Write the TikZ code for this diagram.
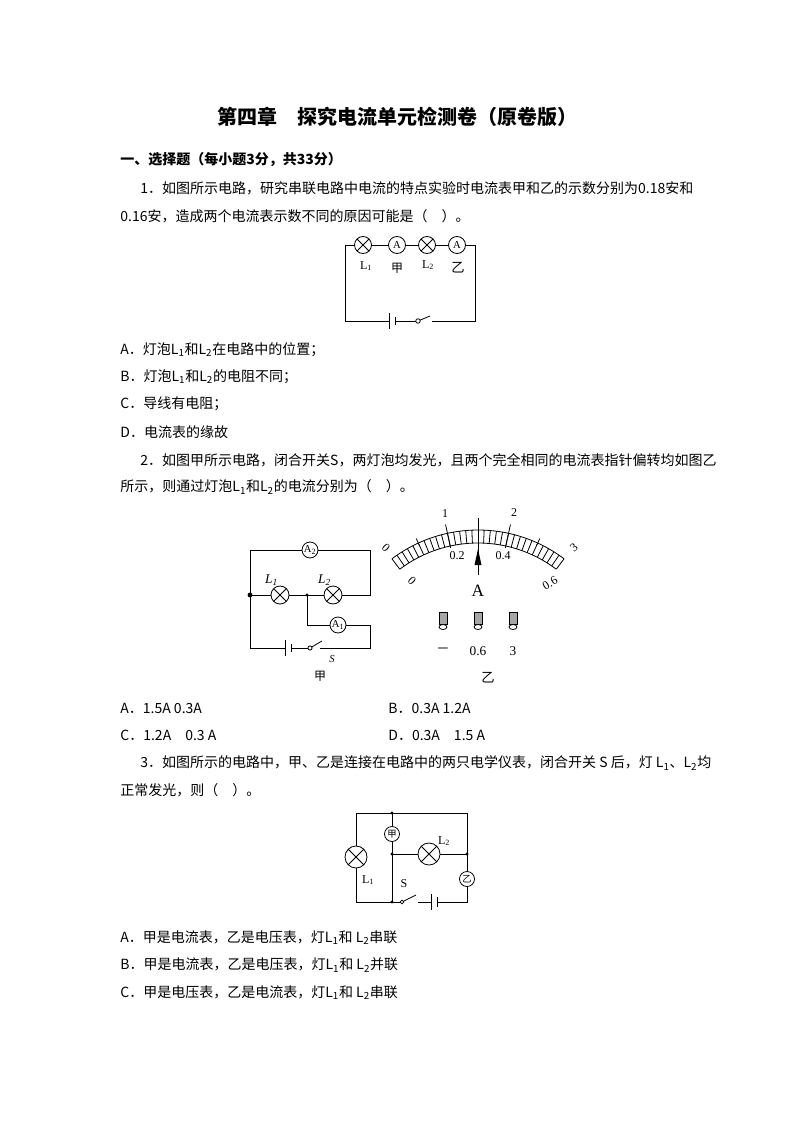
\documentclass[tikz,border=0pt]{standalone}
\usepackage{fontspec}
\setmainfont{Liberation Serif}
\newfontfamily\cjk{Noto Sans CJK SC}
\usetikzlibrary{arrows.meta}
\tikzset{
 lamp/.style={circle,draw,fill=white,minimum size=#1,inner sep=0pt,
   path picture={\draw (path picture bounding box.north west)--(path picture bounding box.south east)
   (path picture bounding box.north east)--(path picture bounding box.south west);}},
 meter/.style={circle,draw,fill=white,minimum size=#1,inner sep=0pt,font=\fontsize{8}{8}\selectfont},
 txt/.style={anchor=west,inner sep=0pt,font=\cjk\fontsize{10.5}{12}\selectfont},
 lbl/.style={inner sep=0pt,font=\fontsize{9}{9}\selectfont},
 dot/.style={circle,fill,inner sep=1.3pt},
}
\begin{document}
\begin{tikzpicture}[x=0.75pt,y=-0.75pt,line width=0.6pt]
\useasboundingbox (0,0) rectangle (794,1123);
\node[inner sep=0pt,font=\cjk\bfseries\fontsize{15}{16}\selectfont] (title) at (397,117) {第四章\quad 探究电流单元检测卷（原卷版）};
\node[txt,font=\cjk\bfseries\fontsize{10.5}{12}\selectfont] (sec) at (120,160) {一、选择题（每小题3分，共33分）};
\node[txt] (q1a) at (140,188) {1．如图所示电路，研究串联电路中电流的特点实验时电流表甲和乙的示数分别为0.18安和};
\node[txt] (q1b) at (120,216) {0.16安，造成两个电流表示数不同的原因可能是（\quad ）。};
% circuit 1
\draw (345,245)--(475,245)--(475,321)--(432,321) (418,321)--(395,321) (389,321)--(345,321)--(345,245);
\draw (389,313)--(389,329) (395,317)--(395,325);
\draw (418,321)--(430,316);
\node[circle,draw,fill=white,inner sep=1.2pt] (sw1) at (418,321) {};
\node[lamp=17pt*0.75] (l1) at (363,245) {};
\node[meter=17pt*0.75] (a1) at (397,245) {A};
\node[lamp=17pt*0.75] (l2) at (427,245) {};
\node[meter=17pt*0.75] (a2) at (457,245) {A};
\node[lbl] (l1t) at (366,266) {L\textsubscript{1}};
\node[lbl,font=\cjk\fontsize{9}{9}\selectfont] (a1t) at (397,268) {甲};
\node[lbl] (l2t) at (428,265) {L\textsubscript{2}};
\node[lbl,font=\cjk\fontsize{10}{10}\selectfont] (a2t) at (458,268) {乙};
\node[txt] (o1a) at (120,350) {A．灯泡L\textsubscript{1}和L\textsubscript{2}在电路中的位置；};
\node[txt] (o1b) at (120,377) {B．灯泡L\textsubscript{1}和L\textsubscript{2}的电阻不同；};
\node[txt] (o1c) at (120,404) {C．导线有电阻；};
\node[txt] (o1d) at (120,432) {D．电流表的缘故};
\node[txt] (q2a) at (140,460) {2．如图甲所示电路，闭合开关S，两灯泡均发光，且两个完全相同的电流表指针偏转均如图乙};
\node[txt] (q2b) at (120,487) {所示，则通过灯泡L\textsubscript{1}和L\textsubscript{2}的电流分别为（\quad ）。};
% circuit 2
\draw (250,595)--(250,550)--(370,550)--(370,595)--(250,595);
\draw (307,595)--(307,625)--(370,625)--(370,648)--(320,648) (310,648)--(291,648) (285,648)--(250,648)--(250,595);
\draw (285,640)--(285,656) (291,644)--(291,652);
\draw (310,648)--(322,641);
\node[circle,draw,fill=white,inner sep=1.1pt] (sw2) at (310,648) {};
\node[meter=16pt*0.75] (A2) at (310,550) {A\textsubscript{2}};
\node[lamp=18pt*0.75,label={[lbl,font=\itshape\fontsize{10}{10}\selectfont]100:L\textsubscript{1}}] (L1b) at (280,595) {};
\node[lamp=18pt*0.75,label={[lbl,font=\itshape\fontsize{10}{10}\selectfont]100:L\textsubscript{2}}] (L2b) at (333,595) {};
\node[meter=16pt*0.75] (A1) at (338,625) {A\textsubscript{1}};
\node[dot] (n1) at (250,595) {}; \node[circle,fill,inner sep=0.9pt] (n2) at (307,595) {};
\node[lbl,font=\itshape\fontsize{8}{8}\selectfont] (st) at (332,659) {S};
\node[lbl,font=\cjk\fontsize{9}{9}\selectfont] (jia) at (320,676) {甲};
% meter
\begin{scope}[shift={(478,673)}]
\draw (-90+37:143) arc[start angle=-90+37,end angle=-90-37,radius=143];
\draw (-90+37:130) arc[start angle=-90+37,end angle=-90-37,radius=130];
\foreach \i in {0,...,30}{\draw (-90-37+2.4667*\i:130)--(-90-37+2.4667*\i:143);}
\foreach \i in {5,15,25}{\draw (-90-37+2.4667*\i:140)--(-90-37+2.4667*\i:148);}
\foreach \i in {10,20}{\draw (-90-37+2.4667*\i:128)--(-90-37+2.4667*\i:152);}
\draw (-90:98)--(-90:155);
\fill (-3.5,-108)--(3.5,-108)--(0,-124)--cycle;
\end{scope}
\begin{scope}[font=\fontsize{9}{9}\selectfont,inner sep=0pt]
\node[rotate=-45] (m0) at (386,548) {0};
\node (m1) at (445,514) {1};
\node (m2) at (514,513) {2};
\node[rotate=40] (m3) at (574,548) {3};
\node[rotate=-45] (n0) at (412,581) {0};
\node (n02) at (457,556) {0.2};
\node (n04) at (503,556) {0.4};
\node[rotate=30] (n06) at (550,583) {0.6};
\end{scope}
\node[font=\fontsize{13}{13}\selectfont,inner sep=0pt] (Alab) at (478,591) {A};
\foreach \x/\n in {443/ta,478/tb,513/tc}{
 \fill[gray!70] (\x-4,612) rectangle (\x+4,624);
 \draw (\x-4,612) rectangle (\x+4,624);
 \draw[fill=white] (\x,627) ellipse (4 and 2.5);
 \node[inner sep=0pt] (\n) at (\x,620) {};}
\node[font=\cjk\fontsize{10}{10}\selectfont] (tm) at (443,651) {－};
\node[font=\fontsize{10}{10}\selectfont] (t06) at (478,651) {0.6};
\node[font=\fontsize{10}{10}\selectfont] (t3) at (513,651) {3};
\node[lbl,font=\cjk\fontsize{10}{10}\selectfont] (yi) at (488,678) {乙};
\node[txt] (o2a) at (120,708) {A．1.5A 0.3A};
\node[txt] (o2b) at (388,708) {B．0.3A 1.2A};
\node[txt] (o2c) at (120,735) {C．1.2A\quad 0.3 A};
\node[txt] (o2d) at (388,735) {D．0.3A\quad 1.5 A};
\node[txt] (q3a) at (140,763) {3．如图所示的电路中，甲、乙是连接在电路中的两只电学仪表，闭合开关 S 后，灯 L\textsubscript{1}、L\textsubscript{2}均};
\node[txt] (q3b) at (120,790) {正常发光，则（\quad ）。};
% circuit 3
\draw (356,902)--(356,813)--(467,813)--(467,902)--(437,902) (431,902)--(418,902) (402,902)--(356,902);
\draw (392,813)--(392,902) (392,854)--(467,854);
\draw (431,894)--(431,910) (437,897)--(437,907);
\draw (402,902)--(416,895);
\node[circle,draw,fill=white,inner sep=1pt] (sw3) at (402,902) {};
\node[lamp=22pt*0.75] (L1c) at (356,857) {};
\node[meter=15pt*0.75,font=\cjk\fontsize{7}{7}\selectfont] (jiam) at (392,834) {甲};
\node[lamp=22pt*0.75] (L2c) at (429,854) {};
\node[meter=15pt*0.75,font=\cjk\fontsize{7}{7}\selectfont] (yim) at (467,879) {乙};
\foreach \p/\n in {{(392,813)}/d1,{(392,854)}/d2,{(467,854)}/d3,{(392,902)}/d4}{\node[circle,fill,inner sep=0.9pt] (\n) at \p {};}
\node[lbl] (L1ct) at (368,880) {L\textsubscript{1}};
\node[lbl] (L2ct) at (444,841) {L\textsubscript{2}};
\node[lbl] (Sct) at (404,884) {S};
\node[txt] (o3a) at (120,938) {A．甲是电流表，乙是电压表，灯L\textsubscript{1}和 L\textsubscript{2}串联};
\node[txt] (o3b) at (120,965) {B．甲是电流表，乙是电压表，灯L\textsubscript{1}和 L\textsubscript{2}并联};
\node[txt] (o3c) at (120,993) {C．甲是电压表，乙是电流表，灯L\textsubscript{1}和 L\textsubscript{2}串联};
\end{tikzpicture}
\end{document}
